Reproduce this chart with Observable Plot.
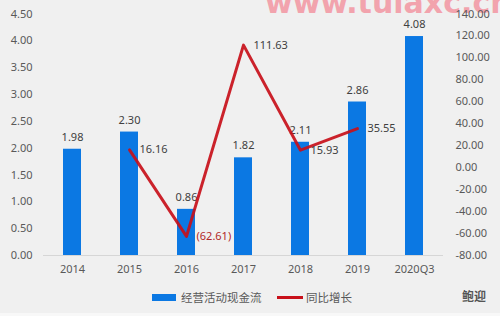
<!DOCTYPE html>
<html><head><meta charset="utf-8">
<script src="https://cdn.jsdelivr.net/npm/d3@7"></script>
<script src="https://cdn.jsdelivr.net/npm/@observablehq/plot@0.6"></script>
<style>
html,body{margin:0;padding:0}
body{background:#f0f0f0;width:500px;height:316px;overflow:hidden;position:relative;font-family:"Noto Sans","Noto Sans CJK SC",sans-serif}
#chart{position:absolute;left:0;top:0;z-index:2}
.sw{position:absolute}
.lt{position:absolute;font-size:11.5px;color:#595959;font-family:"Noto Sans CJK SC","Noto Sans",sans-serif;line-height:14px}
#wm{position:absolute;left:265px;top:-12px;font-size:30px;font-weight:bold;color:#f2a3ad;font-family:"DejaVu Sans",sans-serif;white-space:nowrap;line-height:30px;z-index:1}
#logo{position:absolute;left:462px;top:287px;font-size:12px;font-weight:bold;color:#555;font-family:"Noto Sans CJK SC",sans-serif}
#frame{position:absolute;left:0;top:313px;width:500px;height:3px;background:#f8f8f8}
</style></head><body>
<div id="wm">www.tulaxc.cn</div>
<div id="chart"></div>
<div class="sw" style="left:152px;top:294px;width:24px;height:7px;background:#0b78e3"></div>
<div class="lt" style="left:181px;top:290px">经营活动现金流</div>
<div class="sw" style="left:277px;top:296px;width:26px;height:3px;background:#c8101a"></div>
<div class="lt" style="left:306px;top:290px">同比增长</div>
<div id="logo">鲍迎</div>
<div id="frame"></div>
<script>
const years = ["2014","2015","2016","2017","2018","2019","2020Q3"];
const cashFlow = [1.98,2.30,0.86,1.82,2.11,2.86,4.08];
const growthYears = ["2015","2016","2017","2018","2019"];
const growth = [16.16,-62.61,111.63,15.93,35.55];
const leftTicks = [0,0.5,1,1.5,2,2.5,3,3.5,4,4.5];
const rightTicks = [-80,-60,-40,-20,0,20,40,60,80,100,120,140];

const lMax = 4.5, rMin = -80, rMax = 140;
const toLeft = g => (g - rMin) * lMax / (rMax - rMin);
const toRight = v => v * (rMax - rMin) / lMax + rMin;

const bars = years.map((y,i)=>({year:y, value:cashFlow[i]}));
const line = growthYears.map((y,i)=>({year:y, g:growth[i]}));

const chart = Plot.plot({
  width:500, height:280,
  marginTop:13.5, marginBottom:25, marginLeft:43, marginRight:57,
  style:{background:"transparent", fontSize:"11px", color:"#595959", fontFamily:"'Noto Sans','Open Sans',sans-serif"},
  x:{type:"band", domain:years, paddingInner:0.68, paddingOuter:0.34, label:null},
  y:{domain:[0,4.5], label:null},
  marks:[
    Plot.axisY(leftTicks, {anchor:"left", tickSize:0, tickPadding:11, label:null, tickFormat:d=>d.toFixed(2)}),
    Plot.axisY(rightTicks.map(toLeft), {anchor:"right", tickSize:0, tickPadding:12, label:null, tickFormat:d=>(Math.round(toRight(d)*100)/100).toFixed(2)}),
    Plot.axisX({tickSize:0, tickPadding:10, label:null}),
    Plot.ruleY([0], {stroke:"#d6d6d6", strokeWidth:1}),
    Plot.barY(bars, {x:"year", y:"value", fill:"#0b78e3"}),
    Plot.text(bars, {x:"year", y:"value", text:d=>d.value.toFixed(2), dy:-12, fill:"#404040", fontSize:11}),
    Plot.line(line, {x:"year", y:d=>toLeft(d.g), stroke:"#c8101a", strokeWidth:3, strokeOpacity:0.92}),
    Plot.text(line, {x:"year", y:d=>toLeft(d.g), text:d=>d.g<0?`(${Math.abs(d.g).toFixed(2)})`:d.g.toFixed(2), textAnchor:"start", dx:10, fill:d=>d.g<0?"#b02828":"#404040", fontSize:11})
  ]
});
document.getElementById("chart").appendChild(chart);
</script>
</body></html>
